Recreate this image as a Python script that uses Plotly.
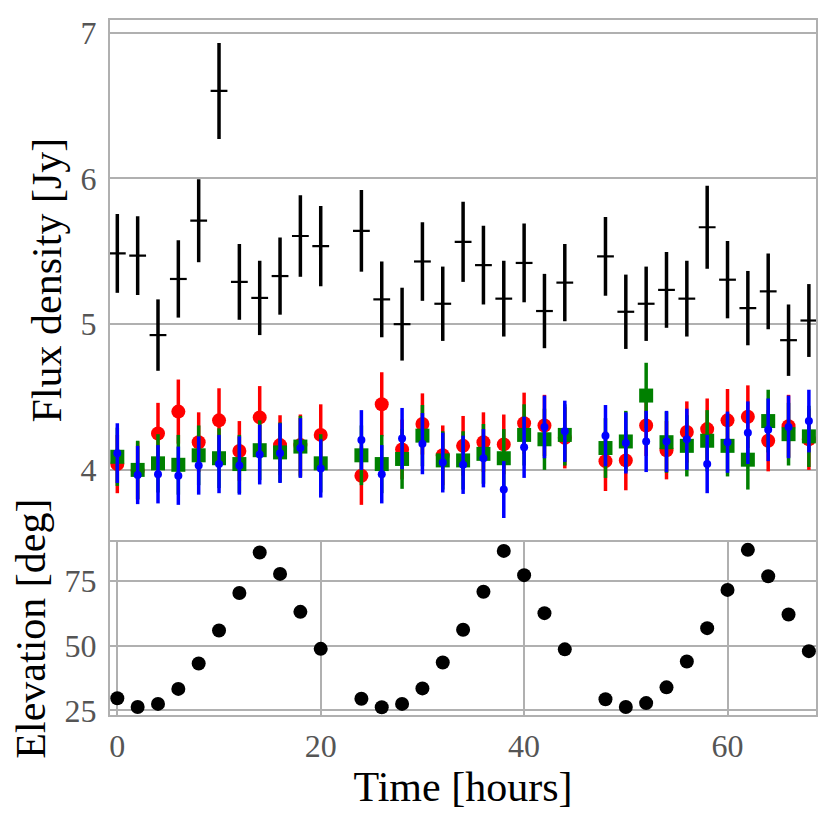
import plotly.graph_objects as go
from plotly.subplots import make_subplots

# ---- data ----
time_hours = [0, 2, 4, 6, 8, 10, 12, 14, 16, 18, 20,
              24, 26, 28, 30, 32, 34, 36, 38, 40, 42, 44,
              48, 50, 52, 54, 56, 58, 60, 62, 64, 66, 68]

flux_black = [5.485, 5.47, 4.925, 5.31, 5.71, 6.60, 5.29, 5.18, 5.33, 5.605, 5.535,
              5.64, 5.17, 5.0, 5.43, 5.14, 5.565, 5.405, 5.175, 5.42, 5.09, 5.285,
              5.465, 5.085, 5.14, 5.235, 5.175, 5.665, 5.305, 5.11, 5.225, 4.89, 5.025]
err_black = [0.27, 0.27, 0.245, 0.265, 0.285, 0.33, 0.26, 0.255, 0.265, 0.28, 0.275,
             0.28, 0.26, 0.25, 0.27, 0.255, 0.275, 0.27, 0.26, 0.27, 0.255, 0.265,
             0.27, 0.255, 0.255, 0.26, 0.26, 0.285, 0.265, 0.255, 0.26, 0.245, 0.25]

flux_red = [4.04, 3.995, 4.25, 4.40, 4.19, 4.34, 4.13, 4.36, 4.17, 4.17, 4.24,
            3.96, 4.45, 4.14, 4.315, 4.10, 4.165, 4.19, 4.175, 4.32, 4.305, 4.22,
            4.06, 4.065, 4.305, 4.135, 4.26, 4.28, 4.34, 4.365, 4.20, 4.30, 4.21]
err_red = [0.2, 0.2, 0.21, 0.22, 0.205, 0.22, 0.205, 0.215, 0.205, 0.21, 0.21,
           0.2, 0.22, 0.205, 0.21, 0.205, 0.205, 0.205, 0.205, 0.21, 0.21, 0.21,
           0.205, 0.205, 0.21, 0.2, 0.21, 0.21, 0.215, 0.215, 0.21, 0.215, 0.21]

flux_green = [4.09, 4.00, 4.045, 4.035, 4.10, 4.08, 4.04, 4.135, 4.12, 4.16, 4.045,
              4.10, 4.04, 4.075, 4.235, 4.065, 4.065, 4.11, 4.08, 4.24, 4.21, 4.24,
              4.15, 4.195, 4.51, 4.19, 4.165, 4.20, 4.165, 4.07, 4.335, 4.245, 4.23]
err_green = [0.2, 0.2, 0.2, 0.205, 0.205, 0.205, 0.2, 0.205, 0.205, 0.21, 0.2,
             0.205, 0.2, 0.205, 0.21, 0.2, 0.2, 0.205, 0.2, 0.21, 0.21, 0.21,
             0.205, 0.21, 0.225, 0.21, 0.21, 0.21, 0.21, 0.205, 0.215, 0.215, 0.21]

flux_blue = [4.115, 3.965, 3.97, 3.96, 4.03, 4.04, 4.03, 4.105, 4.115, 4.15, 4.01,
             4.205, 3.97, 4.215, 4.18, 4.05, 4.035, 4.08, 3.865, 4.155, 4.295, 4.265,
             4.235, 4.185, 4.195, 4.195, 4.21, 4.04, 4.19, 4.255, 4.275, 4.295, 4.335]
err_blue = [0.205, 0.2, 0.2, 0.2, 0.2, 0.2, 0.2, 0.205, 0.205, 0.205, 0.2,
            0.205, 0.2, 0.21, 0.21, 0.205, 0.2, 0.2, 0.195, 0.21, 0.215, 0.21,
            0.21, 0.21, 0.21, 0.21, 0.21, 0.2, 0.21, 0.215, 0.215, 0.215, 0.215]

elevation = [29.7, 26.3, 27.5, 33.3, 43.1, 55.9, 70.4, 86.1, 77.8, 63.1, 48.8,
             29.5, 26.2, 27.5, 33.5, 43.5, 56.2, 70.9, 86.7, 77.3, 62.6, 48.6,
             29.3, 26.3, 27.8, 33.9, 43.9, 56.8, 71.6, 87.1, 76.9, 62.1, 47.9]

x_ticks = [0, 20, 40, 60]
flux_ticks = [4, 5, 6, 7]
elev_ticks = [25, 50, 75]

# ---- figure ----
FONT = "Liberation Serif"
GRID = "#b0b0b0"

fig = make_subplots(rows=2, cols=1, shared_xaxes=True)

def err(vals, color, thick=3.5):
    return dict(type="data", array=vals, visible=True, color=color,
                thickness=thick, width=0)

fig.add_trace(go.Scatter(x=time_hours, y=flux_black, mode="markers",
                         marker=dict(symbol="line-ew", size=12, color="black",
                                     line=dict(color="black", width=2.2)),
                         error_y=err(err_black, "black", 3.5), showlegend=False),
              row=1, col=1)
fig.add_trace(go.Scatter(x=time_hours, y=flux_red, mode="markers",
                         marker=dict(symbol="circle", size=14, color="red",
                                     line=dict(width=0)),
                         error_y=err(err_red, "red"), showlegend=False),
              row=1, col=1)
fig.add_trace(go.Scatter(x=time_hours, y=flux_green, mode="markers",
                         marker=dict(symbol="square", size=14, color="green",
                                     line=dict(width=0)),
                         error_y=err(err_green, "green"), showlegend=False),
              row=1, col=1)
fig.add_trace(go.Scatter(x=time_hours, y=flux_blue, mode="markers",
                         marker=dict(symbol="circle", size=8, color="blue",
                                     line=dict(width=0)),
                         error_y=err(err_blue, "blue"), showlegend=False),
              row=1, col=1)

fig.add_trace(go.Scatter(x=time_hours, y=elevation, mode="markers",
                         marker=dict(symbol="circle", size=14, color="black",
                                     line=dict(width=0)),
                         showlegend=False),
              row=2, col=1)

tickfont = dict(family=FONT, size=32, color="#555555")
titlefont = dict(family=FONT, size=42, color="black")

# the page body has an 8px default margin, so the figure is 8px smaller
fig.update_layout(
    width=823, height=818,
    margin=dict(l=102, r=15, t=7, b=111),
    paper_bgcolor="white", plot_bgcolor="white",
    xaxis=dict(domain=[0, 1], range=[-0.72, 68.7], showgrid=False,
               showticklabels=False, tickvals=x_ticks, zeroline=False,
               showline=True, mirror=True, linecolor=GRID, linewidth=2,
               matches="x2"),
    yaxis=dict(domain=[0.2514, 1], range=[3.517, 7.087], tickvals=flux_ticks,
               showgrid=True, gridcolor=GRID, gridwidth=1.5, zeroline=False,
               showline=True, mirror=True, linecolor=GRID, linewidth=2,
               tickfont=tickfont, ticklabelstandoff=5,
               title=dict(text="Flux density [Jy]", font=titlefont, standoff=6)),
    xaxis2=dict(domain=[0, 1], range=[-0.72, 68.7], tickvals=x_ticks,
                showgrid=True, gridcolor=GRID, gridwidth=1.5, zeroline=False,
                showline=True, mirror=True, linecolor=GRID, linewidth=2,
                tickfont=tickfont, ticklabelstandoff=2,
                title=dict(text="Time [hours]", font=titlefont, standoff=8)),
    yaxis2=dict(domain=[0, 0.2486], range=[23.2, 90.05], tickvals=elev_ticks,
                showgrid=True, gridcolor=GRID, gridwidth=1.5, zeroline=False,
                showline=True, mirror=True, linecolor=GRID, linewidth=2,
                tickfont=tickfont, ticklabelstandoff=5,
                title=dict(text="Elevation [deg]", font=titlefont, standoff=18)),
)

fig.write_html("out.html")
